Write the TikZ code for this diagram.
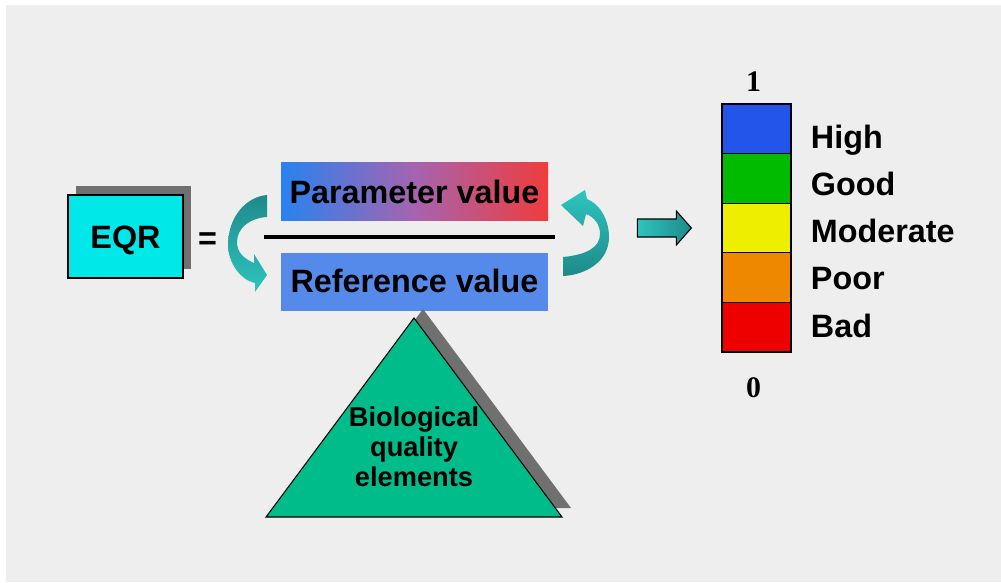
\documentclass[tikz,border=0pt]{standalone}
\usepackage{fontspec}
\setmainfont{Liberation Sans}
\newfontfamily\numfont{Liberation Serif}
\usetikzlibrary{positioning}

\definecolor{bggray}{RGB}{238,238,238}
\definecolor{shadowgray}{RGB}{112,112,112}
\definecolor{eqrcyan}{RGB}{0,232,232}
\definecolor{refblue}{RGB}{85,138,235}
\definecolor{parblue}{RGB}{40,130,240}
\definecolor{parmid}{RGB}{165,100,175}
\definecolor{parred}{RGB}{240,60,60}
\definecolor{tealdark}{RGB}{30,138,138}
\definecolor{teallight}{RGB}{46,196,190}
\definecolor{bioteal}{RGB}{0,187,138}
\definecolor{scalehigh}{RGB}{35,85,235}
\definecolor{scalegood}{RGB}{0,187,0}
\definecolor{scalemod}{RGB}{238,238,0}
\definecolor{scalepoor}{RGB}{238,136,0}
\definecolor{scalebad}{RGB}{238,0,0}

\begin{document}
\begin{tikzpicture}[
    x=0.02cm, y=-0.02cm,
    label/.style={font=\fontsize{18.4}{22}\selectfont\bfseries, inner sep=0pt},
    numlabel/.style={font=\fontsize{17}{20}\selectfont\numfont\bfseries, inner sep=0pt},
    cell/.style={draw, line width=0.7pt, minimum width=1.38cm, minimum height=0.992cm, inner sep=0pt},
  ]
    \useasboundingbox (0,0) rectangle (1001,582);
    \fill[bggray] (6,5) rectangle (1001,582);

    % EQR with its shadow
    \fill[shadowgray] (76,186) rectangle (191,269);
    \node[draw, line width=0.6pt, fill=eqrcyan, minimum width=2.3cm, minimum height=1.66cm] (eqr) at (125.5,236.5) {};
    \node[label, anchor=base] (eqrtxt) at (125.5,248) {EQR};
    \path (eqr.east) ++(24,13) node[label, anchor=base] (eq) {=};

    % fraction
    \shade[left color=parblue, right color=parred, middle color=parmid] (281,162) rectangle (548,220);
    \node[label, anchor=base] (param) at (414.5,203) {Parameter value};
    \fill[refblue] (281,253) rectangle (548,311);
    \node[label, anchor=base] (ref) at (414.5,292) {Reference value};
    \coordinate (barl) at (264,237);
    \coordinate (barr) at (555,237);
    \draw[line width=1.8pt] (barl) -- (barr);

    % curved arrows
    \shade[top color=tealdark, bottom color=teallight]
        (267,195) .. controls (245,197) and (228,218) .. (228,245)
        .. controls (228,262) and (240,280) .. (255,283)
        -- (255,292) -- (267,275) -- (254,254) -- (254,263)
        .. controls (243,258) and (237,252) .. (237,242)
        .. controls (237,228) and (250,218) .. (267,217) -- cycle;
    \shade[top color=teallight, bottom color=tealdark]
        (563,257) .. controls (585,255) and (600,248) .. (600,234)
        .. controls (600,224) and (594,217) .. (586,214)
        -- (583,226) -- (561,205) -- (585,190) -- (587,199)
        .. controls (600,204) and (609,220) .. (609,237)
        .. controls (609,262) and (585,275) .. (563,276) -- cycle;

    % triangle
    \fill[shadowgray] (423,309) -- (571,508) -- (275,508) -- cycle;
    \draw[line width=0.6pt, fill=bioteal] (414,318) -- (562,517) -- (266,517) -- cycle;
    \node[font=\fontsize{15.5}{17}\selectfont\bfseries, align=center, inner sep=0pt] (bio) at (414,447) {Biological\\quality\\elements};

    % scale
    \foreach \clr/\txt [count=\i] in {scalehigh/High, scalegood/Good, scalemod/Moderate, scalepoor/Poor, scalebad/Bad} {
        \node[cell, fill=\clr] (cell\i) at (756.5,79.2+49.6*\i) {};
        \path (cell\i.east) ++(19,{19.4-2.35*(\i-1)}) node[label, anchor=base west] (lab\i) {\txt};
    }
    \path (cell1.north) ++(-3,-12) node[numlabel, anchor=base] (one) {1};
    \path (cell5.south) ++(-3,45) node[numlabel, anchor=base] (zero) {0};

    % block arrow to the scale
    \path (cell3.west) ++(-30,0) coordinate (arrtip);
    \shadedraw[left color=teallight, right color=tealdark, line width=0.6pt]
        (arrtip) -- ++(-15,-17) -- ++(0,8) -- ++(-39,0) -- ++(0,18) -- ++(39,0) -- ++(0,8) -- cycle;
\end{tikzpicture}
\end{document}
